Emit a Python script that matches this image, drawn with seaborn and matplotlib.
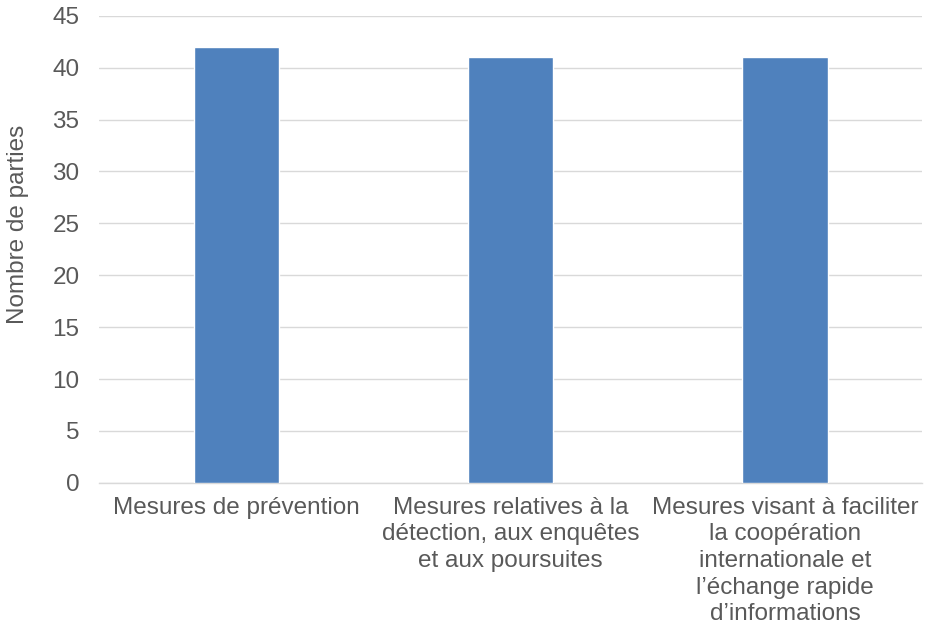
import matplotlib
matplotlib.use("Agg")
import matplotlib.pyplot as plt
import seaborn as sns
import pandas as pd

categories = [
    "Mesures de prévention",
    "Mesures relatives à la\ndétection, aux enquêtes\net aux poursuites",
    "Mesures visant à faciliter\nla coopération\ninternationale et\nl’échange rapide\nd’informations",
]
values = [42, 41, 41]
y_ticks = list(range(0, 46, 5))

sns.set_theme(style="white")
plt.rcParams["font.family"] = ["Liberation Sans", "DejaVu Sans"]

df = pd.DataFrame({"categorie": categories, "parties": values})

fig = plt.figure(figsize=(9.25, 6.32), dpi=100)
ax = fig.add_axes([0.107, 0.236, 0.89, 0.739])

sns.barplot(data=df, x="categorie", y="parties", color="#4F81BD",
            saturation=1, width=0.31, ax=ax, zorder=3)

ax.set_xlim(-0.5, 2.5)
ax.set_ylim(0, 45)
ax.set_yticks(y_ticks)
ax.yaxis.grid(True, color="#D9D9D9", linewidth=1, zorder=0)
ax.set_axisbelow(True)

text_color = "#595959"
fs = 17.5
ax.tick_params(axis="y", labelsize=fs, colors=text_color, length=0, pad=14)
ax.tick_params(axis="x", labelsize=fs, colors=text_color, length=0, pad=10)
for lbl in ax.get_xticklabels():
    lbl.set_linespacing(1.27)
ax.set_xlabel("")
ax.set_ylabel("Nombre de parties", fontsize=fs, color=text_color, labelpad=17)
ax.yaxis.label.set_y(0.553)

for side in ["top", "right", "left"]:
    ax.spines[side].set_visible(False)
ax.spines["bottom"].set_color("#D9D9D9")
ax.spines["bottom"].set_linewidth(1)

fig.savefig("out.png", dpi=100)
